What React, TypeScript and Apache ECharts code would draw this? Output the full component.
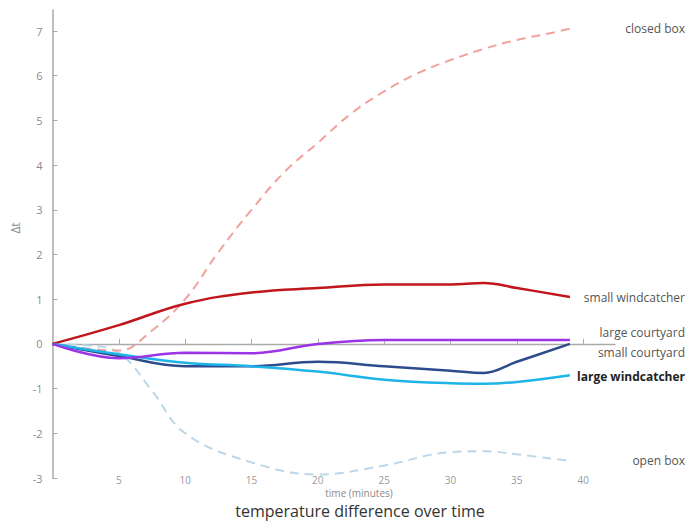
import React, { useEffect, useRef } from "react";
import * as echarts from "echarts";

const xTicks = [5, 10, 15, 20, 25, 30, 35, 40];
const yTicks = [-3, -2, -1, 0, 1, 2, 3, 4, 5, 6, 7];

const closedBoxX = [0, 5, 7.5, 10, 12.5, 15, 17.5, 20, 22.5, 25, 27.5, 30, 32.5, 35, 37.5, 39];
const closedBoxY = [0, -0.15, 0.3, 1.0, 2.05, 3.0, 3.85, 4.5, 5.15, 5.65, 6.05, 6.35, 6.6, 6.8, 6.95, 7.05];

const openBoxX = [0, 2.5, 5, 7.5, 10, 15, 20, 25, 30, 32.5, 35, 39];
const openBoxY = [0, -0.03, -0.2, -1.05, -2.0, -2.65, -2.92, -2.72, -2.42, -2.4, -2.47, -2.62];

const lineX = [0, 5, 10, 15, 20, 25, 30, 32.5, 35, 39];
const smallWindcatcherY = [0, 0.42, 0.9, 1.15, 1.25, 1.33, 1.33, 1.36, 1.25, 1.05];
const largeCourtyardY = [0, -0.32, -0.2, -0.21, 0, 0.09, 0.09, 0.09, 0.09, 0.09];
const smallCourtyardY = [0, -0.27, -0.5, -0.5, -0.4, -0.5, -0.6, -0.65, -0.4, 0];
const largeWindcatcherY = [0, -0.23, -0.42, -0.5, -0.62, -0.8, -0.88, -0.89, -0.85, -0.7];

const FONT = "Open Sans";

function pairs(xs: number[], ys: number[]) {
  return xs.map((x, i) => [x, ys[i]]);
}

export default function App() {
  const ref = useRef<HTMLDivElement>(null);
  useEffect(() => {
    if (!ref.current) return;
    const chart = echarts.init(ref.current, undefined, { renderer: "svg" });
    const solid = (name: string, ys: number[], color: string) => ({
      name,
      type: "line",
      data: pairs(lineX, ys),
      smooth: 0.4,
      symbol: "none",
      lineStyle: { color, width: 2.5 },
      xAxisIndex: 0,
      yAxisIndex: 0,
    });
    const label = (text: string, y: number, bold = false) => ({
      type: "text",
      x: 685,
      y,
      style: {
        text,
        align: "right",
        verticalAlign: "middle",
        fontSize: 12,
        fontWeight: bold ? "bold" : "normal",
        fill: bold ? "#222" : "#555",
        fontFamily: FONT,
      },
    });
    chart.setOption({
      animation: false,
      textStyle: { fontFamily: FONT },
      grid: { left: 52.5, right: 71, top: 10, bottom: 43, containLabel: false },
      xAxis: [
        {
          type: "value",
          min: 0,
          max: 42.4,
          position: "bottom",
          axisLine: { show: false, onZero: false },
          axisTick: { show: false },
          splitLine: { show: false },
          axisLabel: {
            customValues: xTicks,
            color: "#9a9a9a",
            fontSize: 10,
            lineHeight: 10,
            margin: -3.5,
            fontFamily: FONT,
          },
        },
        {
          type: "value",
          min: 0,
          max: 42.4,
          position: "bottom",
          axisLine: { show: true, onZero: true, lineStyle: { color: "#aaaaaa", width: 1.3 } },
          axisTick: {
            show: true,
            inside: true,
            length: 5,
            customValues: xTicks,
            lineStyle: { color: "#aaaaaa", width: 1 },
          },
          axisLabel: { show: false },
          splitLine: { show: false },
        },
      ],
      yAxis: {
        type: "value",
        min: -3,
        max: 7.47,
        axisLine: { show: true, lineStyle: { color: "#aaaaaa", width: 1.5 } },
        axisTick: {
          show: true,
          inside: true,
          length: 5,
          customValues: yTicks,
          lineStyle: { color: "#aaaaaa", width: 1 },
        },
        axisLabel: {
          customValues: yTicks,
          color: "#8a8a8a",
          fontSize: 11,
          margin: 10,
          fontFamily: FONT,
        },
        splitLine: { show: false },
      },
      series: [
        {
          name: "open box",
          type: "line",
          data: pairs(openBoxX, openBoxY),
          smooth: 0.4,
          symbol: "none",
          lineStyle: { color: "#bcd7e8", width: 2, type: [9, 6] },
        },
        {
          name: "closed box",
          type: "line",
          data: pairs(closedBoxX, closedBoxY),
          smooth: 0.4,
          symbol: "none",
          lineStyle: { color: "#f2a29c", width: 2, type: [9, 6] },
        },
        solid("small windcatcher", smallWindcatcherY, "#c1161c"),
        solid("small courtyard", smallCourtyardY, "#2e4b8c"),
        solid("large windcatcher", largeWindcatcherY, "#1db4ea"),
        solid("large courtyard", largeCourtyardY, "#9b34e6"),
      ],
      graphic: [
        label("closed box", 28),
        label("small windcatcher", 297),
        label("large courtyard", 332),
        label("small courtyard", 352),
        label("large windcatcher", 376, true),
        label("open box", 460),
        { type: "text", x: 359, y: 493, style: { text: "time (minutes)", align: "center", verticalAlign: "middle", fontSize: 10, lineHeight: 10, fill: "#8a8a8a", fontFamily: FONT } },
        { type: "text", x: 360, y: 510.5, style: { text: "temperature difference over time", align: "center", verticalAlign: "middle", fontSize: 16, lineHeight: 16, fill: "#333", fontFamily: FONT } },
        { type: "text", x: 15, y: 228, rotation: Math.PI / 2, style: { text: "Δt", align: "center", verticalAlign: "middle", fontSize: 12, fill: "#8a8a8a", fontFamily: FONT } },
      ],
    });
    return () => chart.dispose();
  }, []);
  return (
    <div
      ref={ref}
      style={{ position: "fixed", left: 0, top: 0, width: 686, height: 521, background: "#fff" }}
    />
  );
}
